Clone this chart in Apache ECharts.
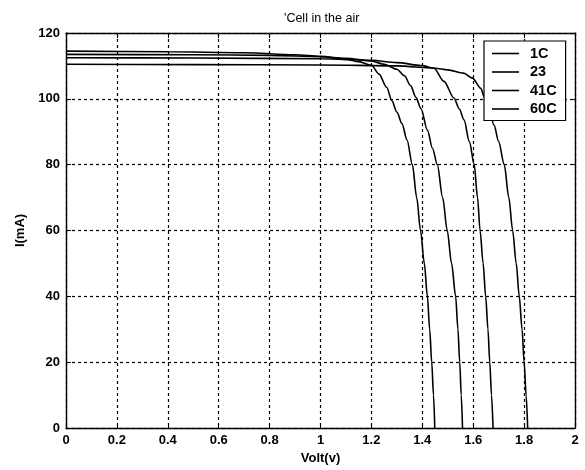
<!DOCTYPE html>
<html><head><meta charset="utf-8">
<script src="https://cdn.jsdelivr.net/npm/echarts@6/dist/echarts.min.js"></script>
<style>html,body{margin:0;padding:0;background:#fff}#c{width:585px;height:470px}</style>
</head><body><div id="c"></div>
<script>
const titleText = "'Cell in the air";
const xName = 'Volt(v)';
const yName = 'I(mA)';
const seriesNames = ['1C', '23', '41C', '60C'];

// [voltage, current] points
const curve1C = [[0,110.5],[0.5,110.4],[1.0,110.3],[1.3,110],[1.45,109.3],[1.5,108.8],[1.562,107.8],[1.597,106.3],[1.63,103.2],[1.643,100.7],[1.66,97.5],[1.682,92],[1.70,87],[1.722,80],[1.74,70],[1.755,60],[1.769,50],[1.781,40],[1.792,30],[1.80,20],[1.808,10],[1.814,0]];
const curve23 = [[0,112.5],[0.5,112.4],[1.0,112.2],[1.2,111.7],[1.3,111],[1.4,110.1],[1.446,109.3],[1.485,105.3],[1.525,100.2],[1.545,97],[1.564,93.6],[1.585,87],[1.604,80],[1.617,70],[1.627,60],[1.639,50],[1.649,40],[1.658,30],[1.665,20],[1.672,10],[1.678,0]];
const curve41C = [[0,113.5],[0.5,113.4],[0.8,113.2],[1.0,112.8],[1.1,112.3],[1.2,111.5],[1.25,110.5],[1.3,109],[1.33,107],[1.354,104],[1.375,100.5],[1.395,97],[1.42,90.5],[1.44,85],[1.459,80],[1.48,70],[1.498,60],[1.515,50],[1.531,40],[1.54,30],[1.547,20],[1.553,10],[1.558,0]];
const curve60C = [[0,114.5],[0.4,114.3],[0.7,114],[0.9,113.4],[1.0,112.9],[1.1,112],[1.15,111.3],[1.2,110.2],[1.23,107.5],[1.26,103.5],[1.28,99.5],[1.30,96],[1.32,92.5],[1.34,87.5],[1.361,80],[1.378,70],[1.393,60],[1.408,50],[1.42,40],[1.429,30],[1.437,20],[1.444,10],[1.449,0]];
const curves = [curve1C, curve23, curve41C, curve60C];

const xMin = 0, xMax = 2, xStep = 0.2;
const yMin = 0, yMax = 120, yStep = 20;

const font = 'Liberation Sans, Arial, Helvetica, sans-serif';
const chart = echarts.init(document.getElementById('c'), null, {renderer: 'canvas'});

const gridLine = {show: true, lineStyle: {color: '#000', type: [3, 3], width: 1.2}};
const axLine = {show: true, onZero: false, lineStyle: {color: '#000', width: 1.4}};
const tick = {show: true, inside: true, length: 5, lineStyle: {color: '#000', width: 1}};
const lbl = {color: '#000', fontFamily: font, fontWeight: 'bold', fontSize: 13};

chart.setOption({
  animation: false,
  backgroundColor: '#fff',
  title: {text: titleText, left: 279, top: 7,
    textStyle: {fontFamily: font, fontSize: 12.5, fontWeight: 'normal', color: '#000'}},
  grid: {left: 66, right: 10, top: 33, bottom: 42, containLabel: false},
  legend: {
    data: seriesNames, orient: 'vertical', left: 484, top: 41,
    backgroundColor: '#fff', borderColor: '#000', borderWidth: 1.2,
    padding: [5, 9, 4, 8], itemGap: 3.5, itemWidth: 27, itemHeight: 1.6,
    icon: 'rect',
    textStyle: {fontFamily: font, fontWeight: 'bold', fontSize: 14.5, color: '#000', padding: [0, 0, 0, 6]}
  },
  xAxis: [
    {type: 'value', min: xMin, max: xMax, interval: xStep, position: 'bottom',
      name: xName, nameLocation: 'middle', nameGap: 22,
      nameTextStyle: {fontFamily: font, fontWeight: 'bold', fontSize: 13, color: '#000'},
      axisLine: axLine, axisTick: tick, splitLine: gridLine,
      axisLabel: Object.assign({margin: 6}, lbl)},
    {type: 'value', min: xMin, max: xMax, interval: xStep, position: 'top',
      axisLine: axLine, axisTick: tick, splitLine: {show: false}, axisLabel: {show: false}}
  ],
  yAxis: [
    {type: 'value', min: yMin, max: yMax, interval: yStep, position: 'left',
      name: yName, nameLocation: 'middle', nameGap: 39,
      nameTextStyle: {fontFamily: font, fontWeight: 'bold', fontSize: 13, color: '#000'},
      axisLine: axLine, axisTick: tick, splitLine: gridLine,
      axisLabel: Object.assign({margin: 6}, lbl)},
    {type: 'value', min: yMin, max: yMax, interval: yStep, position: 'right',
      axisLine: axLine, axisTick: tick, splitLine: {show: false}, axisLabel: {show: false}}
  ],
  series: seriesNames.map((n, i) => ({
    name: n, type: 'line', data: curves[i], symbol: 'none',
    smooth: 0.3, smoothMonotone: 'x',
    itemStyle: {color: '#000'},
    lineStyle: {color: '#000', width: 1.6}
  }))
});
</script></body></html>
